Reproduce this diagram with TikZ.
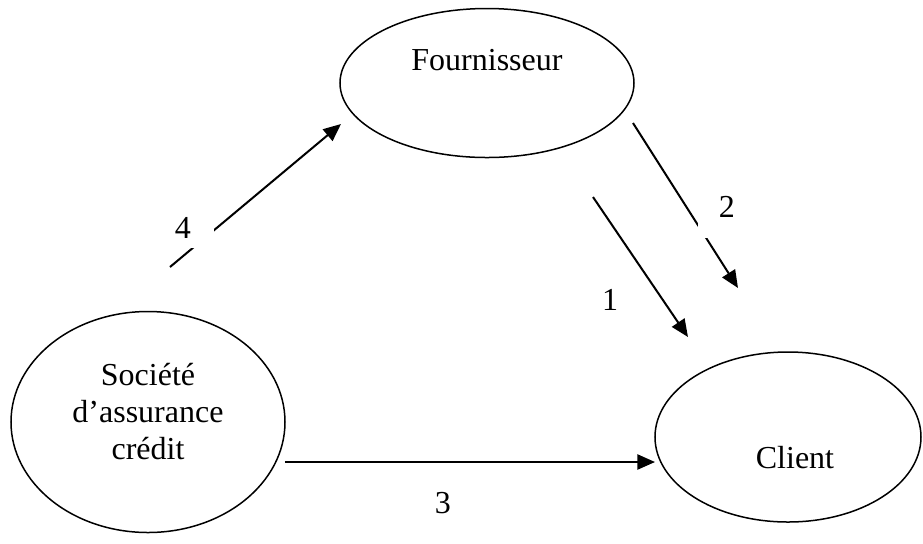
\documentclass[tikz,border=0pt]{standalone}
\usepackage{fontspec}
\setmainfont{Liberation Serif}
\usetikzlibrary{arrows.meta,shapes.geometric}

\begin{document}
\begin{tikzpicture}[x=0.4pt,y=-0.4pt,>={Triangle[length=7pt,width=6pt]},
  party/.style={ellipse,draw,line width=0.6pt,inner sep=0pt},
  name text/.style={font=\fontsize{12.8pt}{14.8pt}\selectfont,align=center},
  num/.style={font=\fontsize{12.8pt}{14.8pt}\selectfont,fill=white,inner sep=0pt},
  flow/.style={->,line width=0.8pt}]

  \useasboundingbox (0,0) rectangle (923,543);

  \node[party,minimum width=117.6pt,minimum height=59.6pt] (four) at (487,83) {};
  \node[party,minimum width=109.6pt,minimum height=88.4pt] (soc) at (148,422) {};
  \node[party,minimum width=106.4pt,minimum height=68pt] (cli) at (788,437) {};
  \node[name text] (fourtxt) at (487,60) {Fournisseur};
  \node[name text] (soctxt) at (148,412) {Société\\d’assurance\\crédit};
  \node[name text] (clitxt) at (795,458) {Client};

  \coordinate (s4) at (170,267);
  \coordinate (e4) at (341,124);
  \coordinate (s2) at (633,123);
  \coordinate (e2) at (738,288);
  \coordinate (s1) at (593,197);
  \coordinate (e1) at (688,337);
  \coordinate (s3) at (285,462);
  \coordinate (e3) at (655,462);

  \path[flow]
    (s4) edge (e4)
    (s2) edge (e2)
    (s1) edge (e1)
    (s3) edge (e3)
    ;

  \node[num,minimum width=24.8pt,minimum height=16pt] (n4) at (183,228) {4};
  \node[num,minimum width=23.2pt,minimum height=24.8pt] (n2) at (727,207) {2};
  \node[num] (n1) at (610,300) {1};
  \node[num] (n3) at (443,503) {3};

\end{tikzpicture}
\end{document}
